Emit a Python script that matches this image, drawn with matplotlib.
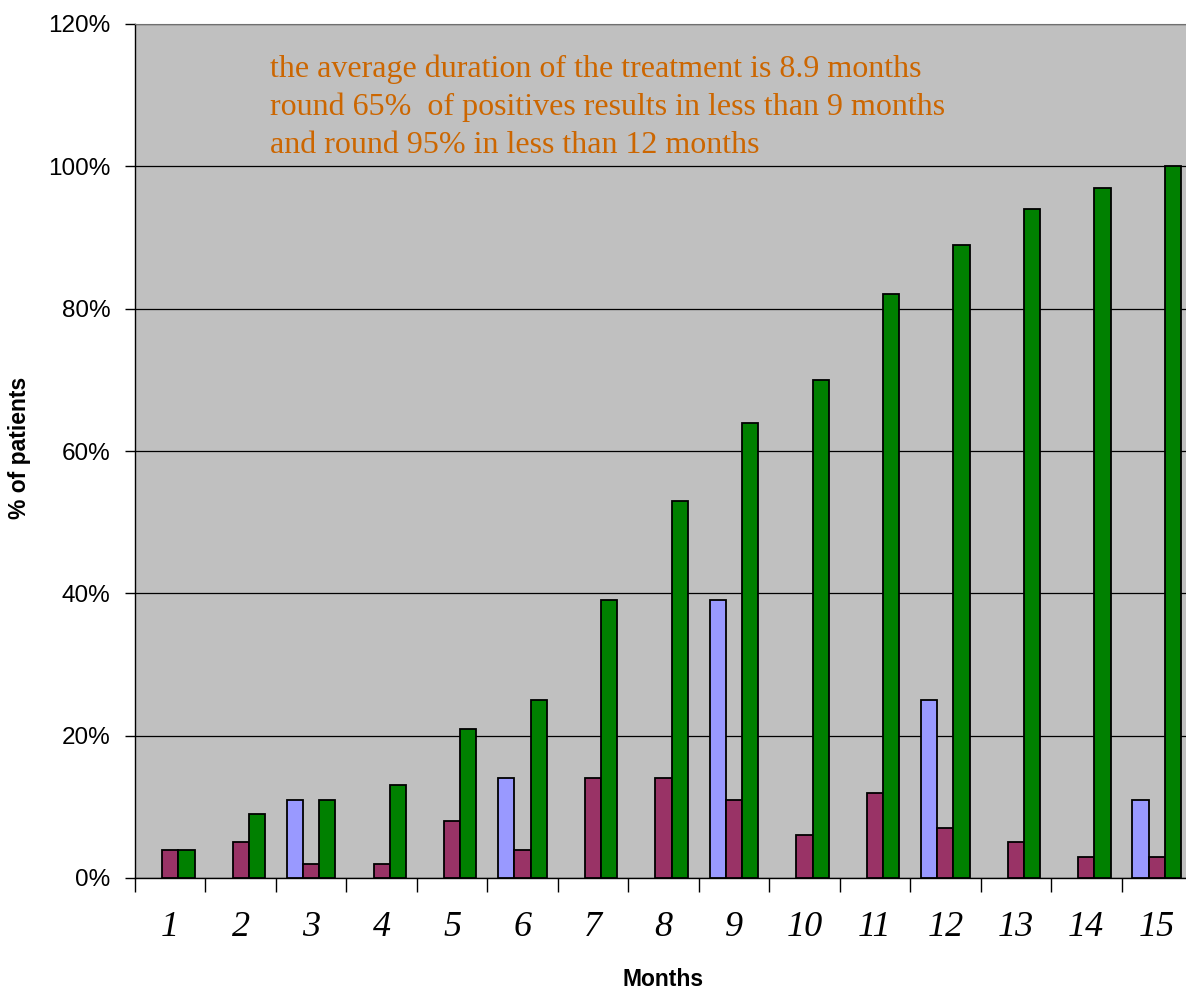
import numpy as np
import matplotlib
matplotlib.use('Agg')
import matplotlib.pyplot as plt
from matplotlib.ticker import FuncFormatter

months = list(range(1, 16))
# three series per month (percent of patients)
blue_vals = [0, 0, 11, 0, 0, 14, 0, 0, 39, 0, 0, 25, 0, 0, 11]
maroon_vals = [4, 5, 2, 2, 8, 4, 14, 14, 11, 6, 12, 7, 5, 3, 3]
green_vals = [4, 9, 11, 13, 21, 25, 39, 53, 64, 70, 82, 89, 94, 97, 100]

note = ("the average duration of the treatment is 8.9 months\n"
        "round 65%  of positives results in less than 9 months\n"
        "and round 95% in less than 12 months")

plt.rcParams['font.family'] = ['Liberation Sans', 'DejaVu Sans']

fig = plt.figure(figsize=(11.86, 9.89), dpi=100)
ax = fig.add_axes([135/1186, 1-878/989, 1057/1186, (878-24)/989])
ax.set_facecolor('#C0C0C0')

x = np.arange(len(months))
w = 0.23
for off, vals, col in [(-w, blue_vals, '#9999FF'),
                       (0, maroon_vals, '#993366'),
                       (w, green_vals, '#008000')]:
    v = np.array(vals)
    keep = v > 0  # empty months get no bar at all
    ax.bar(x[keep] + off, v[keep], w, color=col, edgecolor='black',
           linewidth=1.3, zorder=3)

ax.set_xlim(-0.5, len(months) - 0.5)
ax.set_ylim(0, 120)
ax.set_yticks(range(0, 121, 20))
ax.yaxis.set_major_formatter(FuncFormatter(lambda v, p: '%d%%' % v))
ax.yaxis.grid(True, color='black', linewidth=0.9, zorder=1)
ax.tick_params(axis='y', labelsize=17.5, length=7, width=1, pad=10.5)

# category boundaries carry the tick marks, labels sit in the middle
ax.set_xticks(np.arange(-0.5, len(months), 1.0))
ax.set_xticklabels([])
ax.set_xticks(x, minor=True)
ax.set_xticklabels([str(m) for m in months], minor=True,
                   family='Liberation Serif', style='italic', fontsize=26)
ax.tick_params(axis='x', which='major', length=10, width=1)
ax.tick_params(axis='x', which='minor', length=0, pad=24)

ax.spines['top'].set_color('#707070')
ax.spines['right'].set_visible(False)
ax.spines['left'].set_linewidth(1)
ax.spines['bottom'].set_linewidth(1)

ax.text(0.1276, 0.964, note, transform=ax.transAxes, va='top', ha='left',
        family='Liberation Serif', fontsize=23, color='#CC6600', linespacing=1.38)

fig.text(663/1186, 1-979/989, 'Months', ha='center', va='center',
         fontsize=16.5, fontweight='bold')
fig.text(20/1186, 1-448/989, '% of patients', ha='center', va='center',
         rotation=90, fontsize=16.5, fontweight='bold')

fig.savefig('out.png', dpi=100)
